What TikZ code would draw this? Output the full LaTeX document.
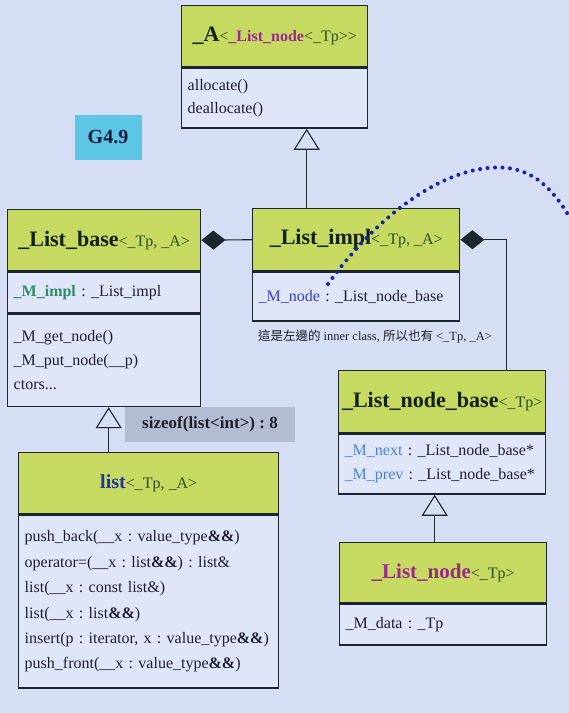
\documentclass[tikz,border=0pt]{standalone}
\usepackage{fontspec}
\setmainfont{Liberation Serif}
\newfontfamily\cjk{Noto Sans CJK TC}
\usepackage{xcolor}
\usetikzlibrary{positioning, arrows.meta}
\frenchspacing

\definecolor{bgcol}{HTML}{D6DEF3}
\definecolor{bodycol}{HTML}{DFE6F7}
\definecolor{hdrcol}{HTML}{C6DA62}
\definecolor{edgecol}{HTML}{1C2630}
\definecolor{tplcol}{HTML}{2C4A1C}
\definecolor{namecol}{HTML}{14200E}
\definecolor{nodecol}{HTML}{9A2A8E}
\definecolor{listcol}{HTML}{2232A8}
\definecolor{implcol}{HTML}{2F8A68}
\definecolor{mnodecol}{HTML}{3C3CC4}
\definecolor{linkcol}{HTML}{4C80D6}
\definecolor{dotcol}{HTML}{1820B0}
\definecolor{tagcol}{HTML}{5CC6E4}
\definecolor{sizecol}{HTML}{B4BCD2}
\definecolor{txtcol}{HTML}{1E1E2E}

\newcommand{\tpl}[1]{{\fontsize{16}{18}\selectfont\color{tplcol}#1}}
\newcommand{\cname}[1]{{\fontsize{22}{26}\selectfont\bfseries\color{namecol}#1}}
\newcommand{\dbl}{\textbf{\&\&}}

\tikzset{
  hdr/.style={draw=edgecol, fill=hdrcol, line width=1.4pt, minimum width=#1,
    minimum height=61pt, inner sep=0pt, anchor=north west},
  sec/.style={draw=edgecol, fill=bodycol, line width=1.4pt, text width=#1,
    inner xsep=6pt, inner ysep=0pt, align=left, anchor=north,
    font=\fontsize{16}{24}\selectfont, text=txtcol},
  inh/.style={draw=edgecol, line width=1.1pt,
    -{Triangle[length=21pt, width=26pt, fill=bgcol, line width=1.1pt]}},
  comp/.style={draw=edgecol, line width=1.1pt,
    -{Diamond[length=24pt, width=19pt]}}
}

\begin{document}
\begin{tikzpicture}[x=1pt, y=-1pt]
    % Background
    \fill[bgcol] (0,0) rectangle (569,713);
    \useasboundingbox (0,0) rectangle (569,713);

    % Allocator
    \node[hdr=186pt] (ah) at (181,5)
        {\cname{\_A}\tpl{<}{\fontsize{16}{18}\selectfont\bfseries\color{nodecol}\_List\_node}\tpl{<\_Tp>{}>}};
    \node[sec=174pt, minimum height=60pt] (ab) at (ah.south)
        {allocate()\\[-1pt] deallocate()};

    % Tag
    \node[fill=tagcol, minimum width=67pt, minimum height=45pt, text=namecol!80!blue,
        font=\fontsize{20}{22}\selectfont\bfseries] (tag) at (108,137) {G4.9};

    % _List_base
    \node[hdr=193pt] (baseh) at (7,209) {\cname{\_List\_base}\tpl{<\_Tp, \_A>}};
    \node[sec=181pt, minimum height=41pt] (basef) at (baseh.south)
        {{\bfseries\color{implcol}\_M\_impl} : \_List\_impl};
    \node[sec=181pt, minimum height=92pt] (basem) at (basef.south)
        {\_M\_get\_node()\\ \_M\_put\_node(\_\_p)\\ ctors...};

    % _List_impl
    \node[hdr=207pt, minimum height=62pt] (implh) at (252,208) {\cname{\_List\_impl}\tpl{<\_Tp, \_A>}};
    \node[sec=195pt, minimum height=49pt] (implf) at (implh.south)
        {{\color{mnodecol}\_M\_node} : \_List\_node\_base};
    \node[font=\fontsize{12.5}{15}\selectfont, text=txtcol] (note) at (375,336)
        {{\cjk 這是左邊的} inner class, {\cjk 所以也有} <\_Tp, \_A>};

    % _List_node_base
    \node[hdr=207pt, minimum height=62pt] (nbaseh) at (338,370) {\cname{\_List\_node\_base}\tpl{<\_Tp>}};
    \node[sec=195pt, minimum height=60pt] (nbasef) at (nbaseh.south)
        {{\color{linkcol}\_M\_next} : \_List\_node\_base*\\ {\color{linkcol}\_M\_prev} : \_List\_node\_base*};

    % _List_node
    \node[hdr=207pt, minimum height=60pt] (nodeh) at (339,542)
        {{\fontsize{21}{26}\selectfont\bfseries\color{nodecol}\_List\_node}\tpl{<\_Tp>}};
    \node[sec=195pt, minimum height=41pt] (nodef) at (nodeh.south) {\_M\_data : \_Tp};

    % list
    \node[hdr=260pt] (lsth) at (18,452)
        {{\fontsize{20}{26}\selectfont\bfseries\color{listcol}list}\tpl{<\_Tp, \_A>}};
    \node[sec=248pt, minimum height=173pt, font=\fontsize{16}{25.4}\selectfont] (lstb) at (lsth.south)
        {push\_back(\_\_x : value\_type\dbl)\\
         operator=(\_\_x : list\dbl) : list\&\\
         list(\_\_x : const list\&)\\
         list(\_\_x : list\dbl)\\
         insert(p : iterator, x : value\_type\dbl)\\
         push\_front(\_\_x : value\_type\dbl)};

    % Size label
    \node[fill=sizecol, minimum width=170pt, minimum height=35pt, text=txtcol,
        font=\fontsize{17}{20}\selectfont\bfseries] (size) at (210,424) {sizeof(list<int>) : 8};

    % Connectors
    \draw[inh] ([xshift=-49.5pt]implh.north) -- ([xshift=-49.5pt]implh.north |- ab.south);
    \draw[inh] ([xshift=-40pt]lsth.north) -- ([xshift=-40pt]lsth.north |- basem.south);
    \draw[inh] ([xshift=-8.5pt]nodeh.north) -- ([xshift=-8.5pt]nodeh.north |- nbasef.south);
    \draw[comp] (implh.west) -- (baseh.east);
    \draw[comp] ([xshift=64.5pt]nbaseh.north) |- (implh.east);

    % Pointer mark
    \draw[dotcol, line width=4pt, line cap=round, dash pattern=on 0pt off 7.5pt]
        (328,284) .. controls (385,205) and (455,162) .. (508,168)
        .. controls (537,172) and (556,192) .. (574,225);
\end{tikzpicture}
\end{document}
